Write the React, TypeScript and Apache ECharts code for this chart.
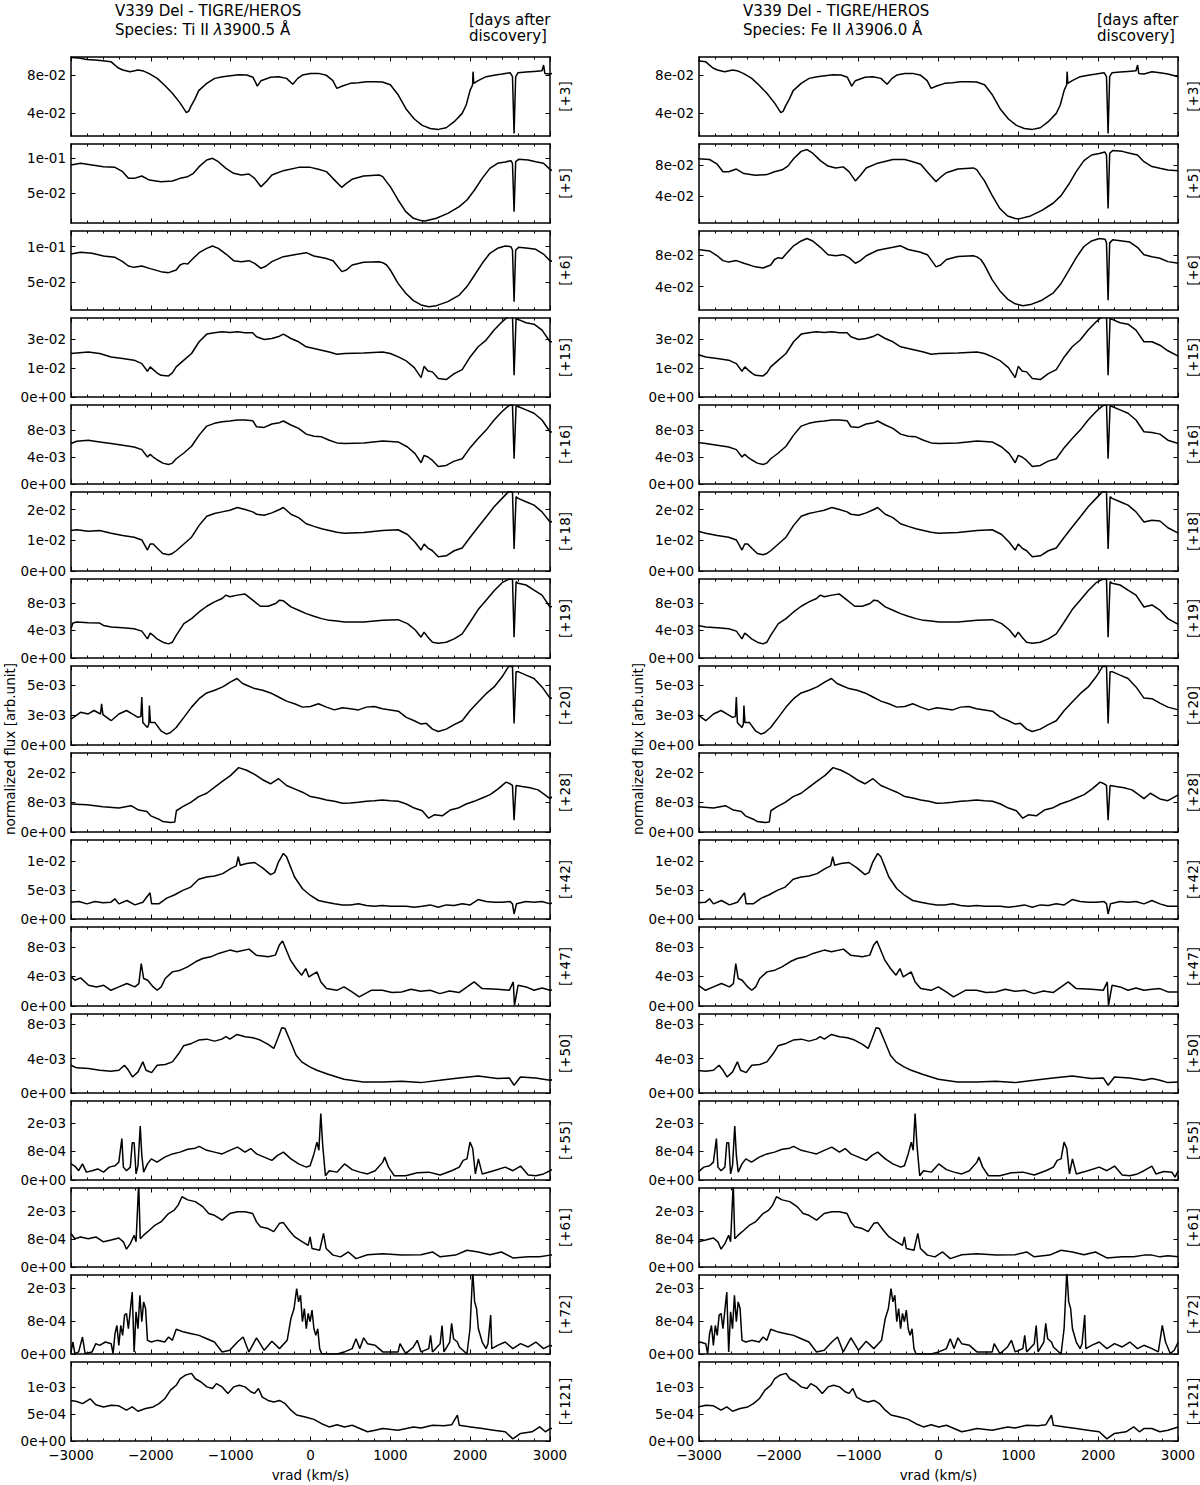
import React, { useEffect, useRef } from 'react';
import * as echarts from 'echarts';

// ---------------- constants of the physics ----------------
const C_KMS = 299792.458;
const REST_TI = 3900.5; // Ti II
const REST_FE = 3906.0; // Fe II

// ---------------- epochs (days after discovery) ----------------
const DAYS = ['+3', '+5', '+6', '+15', '+16', '+18', '+19', '+20', '+28', '+42', '+47', '+50', '+55', '+61', '+72', '+121'];

// ---------------- spectra: [vrad in the Ti II 3900.5 frame (km/s), normalized flux] ----------------
const d3: [number, number][] = [[-3000,0.0984],[-2900,0.0977],[-2800,0.0963],[-2700,0.0957],[-2600,0.0950],[-2500,0.0939],[-2450,0.0904],[-2400,0.0870],[-2350,0.0852],[-2260,0.0835],[-2160,0.0852],[-2090,0.0841],[-2020,0.0814],[-1920,0.0765],[-1830,0.0696],[-1730,0.0609],[-1630,0.0504],[-1555,0.0407],[-1525,0.0424],[-1500,0.0470],[-1450,0.0546],[-1400,0.0637],[-1300,0.0713],[-1200,0.0765],[-1100,0.0783],[-1000,0.0793],[-900,0.0803],[-800,0.0800],[-720,0.0776],[-666,0.0685],[-620,0.0741],[-500,0.0776],[-400,0.0783],[-300,0.0765],[-222,0.0703],[-160,0.0765],[-100,0.0800],[0,0.0817],[100,0.0817],[200,0.0797],[280,0.0741],[330,0.0661],[400,0.0685],[500,0.0713],[600,0.0720],[700,0.0730],[800,0.0730],[900,0.0727],[1000,0.0699],[1100,0.0591],[1200,0.0442],[1300,0.0341],[1400,0.0275],[1500,0.0243],[1600,0.0233],[1700,0.0250],[1800,0.0313],[1900,0.0400],[1950,0.0487],[2000,0.0643],[2030,0.0696],[2036,0.0835],[2045,0.0713],[2100,0.0741],[2200,0.0783],[2300,0.0797],[2400,0.0810],[2500,0.0824],[2530,0.0783],[2550,0.0191],[2570,0.0783],[2600,0.0824],[2700,0.0831],[2800,0.0838],[2900,0.0845],[2920,0.0904],[2935,0.0817],[3000,0.0810],[3100,0.0835],[3200,0.0824],[3300,0.0810],[3430,0.0783]];
const d5: [number, number][] = [[-3000,0.0905],[-2880,0.0929],[-2736,0.0905],[-2593,0.0881],[-2449,0.0871],[-2353,0.0810],[-2281,0.0714],[-2209,0.0714],[-2113,0.0748],[-2018,0.0690],[-1874,0.0667],[-1730,0.0676],[-1634,0.0714],[-1538,0.0738],[-1467,0.0786],[-1395,0.0881],[-1300,0.0976],[-1227,0.1000],[-1155,0.0952],[-1059,0.0857],[-963,0.0786],[-867,0.0762],[-772,0.0776],[-700,0.0714],[-620,0.0595],[-556,0.0667],[-484,0.0762],[-340,0.0824],[-149,0.0871],[0,0.0871],[100,0.0843],[200,0.0810],[280,0.0714],[390,0.0586],[450,0.0643],[520,0.0700],[665,0.0748],[860,0.0762],[905,0.0738],[950,0.0667],[1000,0.0595],[1097,0.0405],[1193,0.0238],[1290,0.0143],[1385,0.0110],[1433,0.0105],[1577,0.0143],[1720,0.0214],[1864,0.0310],[1960,0.0405],[2055,0.0548],[2150,0.0714],[2247,0.0857],[2343,0.0929],[2439,0.0948],[2511,0.0967],[2530,0.0929],[2550,0.0238],[2570,0.0952],[2607,0.0986],[2726,0.0976],[2822,0.0952],[2918,0.0929],[3000,0.0843],[3100,0.0780],[3200,0.0757],[3300,0.0735],[3430,0.0727]];
const d6: [number, number][] = [[-3000,0.0897],[-2880,0.0921],[-2736,0.0907],[-2593,0.0869],[-2449,0.0851],[-2353,0.0790],[-2281,0.0729],[-2209,0.0710],[-2113,0.0729],[-2018,0.0696],[-1874,0.0650],[-1778,0.0636],[-1682,0.0673],[-1634,0.0743],[-1586,0.0766],[-1538,0.0757],[-1490,0.0813],[-1395,0.0916],[-1300,0.0977],[-1227,0.1009],[-1155,0.0977],[-1059,0.0897],[-963,0.0804],[-867,0.0790],[-772,0.0804],[-700,0.0766],[-620,0.0696],[-556,0.0729],[-484,0.0790],[-340,0.0860],[-149,0.0897],[-53,0.0916],[43,0.0869],[187,0.0837],[283,0.0804],[393,0.0650],[450,0.0673],[522,0.0743],[666,0.0781],[858,0.0790],[905,0.0776],[953,0.0743],[1000,0.0673],[1097,0.0486],[1193,0.0346],[1289,0.0243],[1385,0.0183],[1481,0.0159],[1577,0.0173],[1720,0.0229],[1864,0.0322],[1960,0.0440],[2056,0.0603],[2151,0.0767],[2247,0.0907],[2343,0.0977],[2439,0.1009],[2511,0.1000],[2530,0.0953],[2550,0.0229],[2570,0.0953],[2607,0.0991],[2726,0.0977],[2822,0.0963],[2918,0.0897],[3000,0.0804],[3100,0.0779],[3200,0.0758],[3300,0.0716],[3430,0.0695]];
const d15: [number, number][] = [[-3000,0.0227],[-2928,0.0230],[-2784,0.0235],[-2641,0.0227],[-2497,0.0209],[-2353,0.0201],[-2209,0.0192],[-2113,0.0174],[-2042,0.0134],[-2008,0.0157],[-1970,0.0143],[-1922,0.0126],[-1874,0.0113],[-1778,0.0110],[-1730,0.0126],[-1682,0.0157],[-1586,0.0192],[-1490,0.0227],[-1395,0.0288],[-1299,0.0328],[-1203,0.0335],[-1107,0.0340],[-1011,0.0337],[-915,0.0340],[-820,0.0335],[-724,0.0335],[-676,0.0314],[-580,0.0300],[-484,0.0305],[-388,0.0317],[-340,0.0328],[-245,0.0305],[-149,0.0288],[-53,0.0262],[43,0.0253],[139,0.0244],[235,0.0235],[331,0.0223],[426,0.0227],[666,0.0230],[905,0.0235],[1000,0.0227],[1100,0.0209],[1200,0.0188],[1300,0.0153],[1385,0.0101],[1423,0.0160],[1471,0.0136],[1528,0.0131],[1600,0.0096],[1700,0.0091],[1800,0.0122],[1900,0.0143],[2000,0.0209],[2100,0.0262],[2200,0.0297],[2300,0.0349],[2400,0.0392],[2480,0.0422],[2530,0.0427],[2550,0.0113],[2575,0.0410],[2600,0.0405],[2700,0.0387],[2800,0.0380],[2900,0.0349],[3000,0.0288],[3100,0.0288],[3200,0.0270],[3300,0.0241],[3430,0.0213]];
const d16: [number, number][] = [[-3000,0.00604],[-2928,0.00639],[-2784,0.00654],[-2641,0.00629],[-2497,0.00604],[-2353,0.00579],[-2209,0.00553],[-2113,0.00513],[-2042,0.00403],[-2008,0.00443],[-1970,0.00403],[-1922,0.00362],[-1850,0.00312],[-1778,0.00292],[-1730,0.00312],[-1682,0.00377],[-1586,0.00463],[-1490,0.00564],[-1395,0.00730],[-1299,0.00865],[-1203,0.00906],[-1107,0.00931],[-1011,0.00941],[-915,0.00956],[-820,0.00956],[-724,0.00946],[-676,0.00855],[-580,0.00845],[-484,0.00896],[-388,0.00916],[-340,0.00941],[-245,0.00881],[-149,0.00830],[-53,0.00745],[43,0.00714],[139,0.00704],[235,0.00654],[331,0.00614],[426,0.00604],[666,0.00614],[905,0.00644],[1097,0.00629],[1215,0.00553],[1310,0.00453],[1385,0.00317],[1423,0.00428],[1471,0.00403],[1528,0.00352],[1600,0.00262],[1700,0.00277],[1800,0.00342],[1900,0.00377],[2000,0.00543],[2100,0.00679],[2200,0.00805],[2300,0.00956],[2400,0.01082],[2480,0.01167],[2530,0.01182],[2550,0.00377],[2575,0.01167],[2600,0.01157],[2700,0.01107],[2800,0.01057],[2900,0.00956],[3000,0.00780],[3100,0.00770],[3200,0.00745],[3300,0.00654],[3430,0.00604]];
const d18: [number, number][] = [[-3000,0.01319],[-2928,0.01341],[-2784,0.01297],[-2641,0.01319],[-2497,0.01231],[-2353,0.01154],[-2209,0.01099],[-2113,0.01011],[-2042,0.00681],[-2008,0.00879],[-1970,0.00879],[-1922,0.00747],[-1850,0.00571],[-1778,0.00527],[-1730,0.00571],[-1682,0.00659],[-1586,0.00879],[-1490,0.01099],[-1395,0.01484],[-1299,0.01780],[-1203,0.01868],[-1107,0.01923],[-1011,0.01978],[-915,0.02066],[-820,0.02000],[-724,0.01923],[-676,0.01846],[-580,0.01813],[-484,0.01890],[-388,0.02000],[-340,0.02066],[-245,0.01846],[-149,0.01736],[-53,0.01538],[43,0.01451],[139,0.01374],[235,0.01319],[331,0.01264],[426,0.01231],[666,0.01253],[905,0.01319],[1097,0.01341],[1215,0.01187],[1310,0.00934],[1385,0.00681],[1423,0.00879],[1471,0.00747],[1528,0.00659],[1600,0.00462],[1700,0.00495],[1800,0.00659],[1900,0.00747],[2000,0.01099],[2100,0.01429],[2200,0.01758],[2300,0.02088],[2400,0.02363],[2480,0.02582],[2530,0.02582],[2550,0.00714],[2575,0.02418],[2600,0.02363],[2700,0.02253],[2800,0.02143],[2900,0.01923],[3000,0.01593],[3100,0.01648],[3200,0.01626],[3300,0.01407],[3430,0.01231]];
const d19: [number, number][] = [[-3000,0.00424],[-2976,0.00507],[-2928,0.00522],[-2784,0.00512],[-2641,0.00507],[-2593,0.00473],[-2497,0.00449],[-2353,0.00439],[-2209,0.00424],[-2113,0.00390],[-2042,0.00278],[-2008,0.00361],[-1970,0.00327],[-1922,0.00278],[-1850,0.00229],[-1778,0.00205],[-1730,0.00229],[-1682,0.00327],[-1586,0.00498],[-1490,0.00571],[-1395,0.00668],[-1299,0.00751],[-1203,0.00815],[-1107,0.00863],[-1059,0.00912],[-1011,0.00888],[-915,0.00912],[-820,0.00927],[-724,0.00839],[-628,0.00751],[-532,0.00751],[-436,0.00790],[-388,0.00839],[-340,0.00829],[-245,0.00741],[-149,0.00693],[-53,0.00644],[43,0.00605],[139,0.00571],[235,0.00546],[331,0.00537],[426,0.00522],[666,0.00522],[905,0.00546],[1097,0.00556],[1215,0.00498],[1310,0.00410],[1385,0.00302],[1423,0.00376],[1471,0.00302],[1528,0.00229],[1600,0.00215],[1700,0.00229],[1800,0.00278],[1900,0.00351],[2000,0.00522],[2100,0.00702],[2200,0.00839],[2300,0.00976],[2400,0.01093],[2480,0.01141],[2530,0.01141],[2550,0.00302],[2575,0.01107],[2600,0.01083],[2700,0.01059],[2800,0.00985],[2900,0.00912],[3000,0.00740],[3100,0.00770],[3200,0.00693],[3300,0.00571],[3430,0.00488]];
const d20: [number, number][] = [[-3000,0.00216],[-2880,0.00272],[-2784,0.00258],[-2712,0.00287],[-2630,0.00258],[-2617,0.00343],[-2600,0.00253],[-2497,0.00202],[-2400,0.00258],[-2305,0.00287],[-2233,0.00258],[-2161,0.00230],[-2125,0.00236],[-2113,0.00399],[-2100,0.00188],[-2075,0.00169],[-2042,0.00146],[-2025,0.00174],[-2018,0.00329],[-2005,0.00188],[-1950,0.00188],[-1874,0.00118],[-1802,0.00090],[-1754,0.00104],[-1682,0.00146],[-1586,0.00230],[-1490,0.00315],[-1395,0.00385],[-1300,0.00433],[-1200,0.00455],[-1100,0.00483],[-1000,0.00525],[-920,0.00553],[-850,0.00511],[-800,0.00497],[-700,0.00469],[-600,0.00455],[-500,0.00433],[-400,0.00399],[-300,0.00365],[-200,0.00343],[-100,0.00315],[0,0.00320],[100,0.00343],[200,0.00315],[300,0.00292],[400,0.00309],[500,0.00301],[600,0.00292],[700,0.00315],[800,0.00320],[900,0.00301],[1000,0.00292],[1100,0.00281],[1200,0.00230],[1300,0.00202],[1385,0.00174],[1450,0.00180],[1528,0.00132],[1600,0.00112],[1700,0.00132],[1800,0.00169],[1900,0.00202],[2000,0.00287],[2100,0.00357],[2200,0.00427],[2300,0.00483],[2400,0.00567],[2480,0.00652],[2530,0.00652],[2550,0.00180],[2575,0.00610],[2600,0.00610],[2700,0.00581],[2800,0.00553],[2900,0.00483],[3000,0.00390],[3100,0.00385],[3200,0.00348],[3300,0.00315],[3430,0.00292]];
const d28: [number, number][] = [[-3000,0.00755],[-2800,0.00736],[-2600,0.00682],[-2400,0.00645],[-2250,0.00709],[-2150,0.00591],[-2050,0.00555],[-2000,0.00436],[-1900,0.00345],[-1850,0.00282],[-1750,0.00255],[-1700,0.00270],[-1680,0.00573],[-1600,0.00682],[-1500,0.00800],[-1400,0.00955],[-1300,0.01045],[-1200,0.01209],[-1100,0.01373],[-1000,0.01527],[-900,0.01736],[-800,0.01664],[-700,0.01555],[-600,0.01409],[-500,0.01300],[-400,0.01436],[-300,0.01255],[-200,0.01164],[-100,0.01073],[0,0.00955],[100,0.00918],[200,0.00864],[300,0.00827],[400,0.00773],[500,0.00782],[600,0.00800],[700,0.00827],[800,0.00845],[900,0.00864],[1000,0.00845],[1100,0.00827],[1200,0.00755],[1300,0.00645],[1400,0.00573],[1480,0.00373],[1550,0.00464],[1650,0.00436],[1750,0.00591],[1850,0.00645],[1950,0.00755],[2050,0.00827],[2150,0.00918],[2250,0.01009],[2350,0.01164],[2450,0.01345],[2500,0.01300],[2530,0.01255],[2550,0.00318],[2575,0.01255],[2650,0.01227],[2750,0.01191],[2850,0.01136],[2950,0.00982],[3000,0.00900],[3080,0.01045],[3200,0.00891],[3300,0.00845],[3430,0.01000]];
const d42: [number, number][] = [[-3000,0.00291],[-2900,0.00302],[-2800,0.00262],[-2700,0.00302],[-2600,0.00279],[-2500,0.00291],[-2450,0.00349],[-2400,0.00262],[-2300,0.00320],[-2200,0.00244],[-2100,0.00291],[-2010,0.00453],[-1990,0.00262],[-1900,0.00262],[-1800,0.00360],[-1700,0.00419],[-1600,0.00494],[-1500,0.00552],[-1400,0.00686],[-1300,0.00727],[-1200,0.00744],[-1100,0.00785],[-1000,0.00872],[-930,0.00919],[-905,0.01076],[-880,0.00930],[-800,0.00959],[-700,0.00977],[-600,0.00884],[-500,0.00767],[-450,0.00802],[-400,0.00988],[-340,0.01134],[-300,0.01076],[-250,0.00901],[-200,0.00727],[-100,0.00523],[0,0.00407],[100,0.00320],[200,0.00291],[300,0.00262],[400,0.00244],[500,0.00244],[600,0.00262],[700,0.00233],[800,0.00221],[900,0.00233],[1000,0.00221],[1100,0.00221],[1200,0.00221],[1300,0.00203],[1400,0.00221],[1500,0.00244],[1600,0.00203],[1700,0.00244],[1800,0.00233],[1900,0.00262],[2000,0.00244],[2100,0.00337],[2200,0.00302],[2300,0.00291],[2400,0.00291],[2500,0.00302],[2530,0.00262],[2550,0.00087],[2580,0.00262],[2700,0.00302],[2800,0.00291],[2900,0.00302],[3000,0.00262],[3100,0.00320],[3200,0.00262],[3300,0.00221],[3430,0.00221]];
const d47: [number, number][] = [[-3000,0.00393],[-2950,0.00348],[-2880,0.00380],[-2780,0.00280],[-2680,0.00258],[-2590,0.00280],[-2500,0.00212],[-2400,0.00258],[-2300,0.00303],[-2200,0.00258],[-2150,0.00303],[-2120,0.00574],[-2090,0.00371],[-2040,0.00348],[-1970,0.00258],[-1920,0.00212],[-1870,0.00258],[-1820,0.00371],[-1730,0.00461],[-1630,0.00484],[-1540,0.00529],[-1440,0.00597],[-1350,0.00642],[-1250,0.00664],[-1150,0.00710],[-1010,0.00755],[-920,0.00732],[-770,0.00768],[-680,0.00687],[-530,0.00664],[-440,0.00687],[-390,0.00823],[-350,0.00877],[-320,0.00800],[-250,0.00619],[-180,0.00506],[-110,0.00416],[-60,0.00506],[-20,0.00393],[80,0.00461],[130,0.00325],[200,0.00235],[330,0.00212],[420,0.00258],[520,0.00190],[610,0.00122],[760,0.00212],[900,0.00212],[1020,0.00181],[1140,0.00190],[1260,0.00226],[1380,0.00199],[1500,0.00212],[1620,0.00167],[1740,0.00203],[1860,0.00181],[2050,0.00325],[2150,0.00235],[2340,0.00226],[2490,0.00212],[2540,0.00325],[2555,0.00009],[2600,0.00280],[2700,0.00258],[2800,0.00212],[2900,0.00244],[3000,0.00212],[3100,0.00226],[3200,0.00235],[3300,0.00190],[3430,0.00190]];
const d50: [number, number][] = [[-3000,0.00324],[-2930,0.00293],[-2780,0.00285],[-2640,0.00265],[-2500,0.00254],[-2400,0.00265],[-2330,0.00324],[-2280,0.00265],[-2230,0.00187],[-2160,0.00246],[-2100,0.00363],[-2060,0.00265],[-1990,0.00238],[-1920,0.00324],[-1820,0.00332],[-1730,0.00363],[-1650,0.00460],[-1590,0.00550],[-1490,0.00578],[-1400,0.00617],[-1300,0.00628],[-1200,0.00605],[-1110,0.00628],[-1060,0.00656],[-1010,0.00628],[-920,0.00683],[-820,0.00656],[-720,0.00644],[-630,0.00617],[-530,0.00566],[-460,0.00519],[-410,0.00636],[-360,0.00761],[-320,0.00753],[-250,0.00597],[-180,0.00441],[-110,0.00363],[-10,0.00304],[80,0.00265],[230,0.00215],[420,0.00160],[660,0.00129],[900,0.00129],[1140,0.00137],[1380,0.00121],[1620,0.00148],[1860,0.00176],[2100,0.00199],[2340,0.00168],[2490,0.00176],[2550,0.00090],[2630,0.00187],[2820,0.00176],[3000,0.00148],[3100,0.00168],[3200,0.00148],[3300,0.00121],[3430,0.00129]];
const d55: [number, number][] = [[-3000,0.00045],[-2952,0.00039],[-2904,0.00026],[-2856,0.00045],[-2808,0.00022],[-2736,0.00026],[-2665,0.00031],[-2593,0.00022],[-2521,0.00036],[-2449,0.00040],[-2401,0.00050],[-2363,0.00116],[-2344,0.00036],[-2305,0.00026],[-2257,0.00036],[-2233,0.00104],[-2209,0.00104],[-2185,0.00017],[-2161,0.00040],[-2133,0.00151],[-2113,0.00069],[-2090,0.00022],[-2042,0.00045],[-1994,0.00059],[-1922,0.00050],[-1826,0.00064],[-1730,0.00073],[-1634,0.00078],[-1538,0.00086],[-1443,0.00089],[-1395,0.00094],[-1299,0.00083],[-1203,0.00078],[-1107,0.00073],[-1011,0.00083],[-915,0.00092],[-820,0.00078],[-748,0.00088],[-676,0.00073],[-580,0.00064],[-484,0.00055],[-412,0.00069],[-340,0.00078],[-245,0.00059],[-149,0.00045],[-53,0.00036],[-5,0.00040],[43,0.00073],[81,0.00106],[105,0.00083],[129,0.00186],[153,0.00097],[187,0.00012],[235,0.00026],[331,0.00022],[426,0.00045],[522,0.00029],[618,0.00022],[714,0.00017],[810,0.00026],[905,0.00050],[929,0.00064],[977,0.00036],[1049,0.00012],[1193,0.00012],[1337,0.00020],[1481,0.00022],[1624,0.00014],[1768,0.00026],[1864,0.00036],[1912,0.00055],[1960,0.00059],[1998,0.00106],[2032,0.00088],[2065,0.00017],[2103,0.00059],[2151,0.00017],[2295,0.00026],[2439,0.00036],[2535,0.00026],[2631,0.00039],[2727,0.00014],[2823,0.00012],[2919,0.00017],[3000,0.00026],[3100,0.00039],[3150,0.00017],[3250,0.00024],[3350,0.00022],[3390,0.00008],[3430,0.00026]];
const d61: [number, number][] = [[-3000,0.00096],[-2952,0.00081],[-2880,0.00086],[-2784,0.00081],[-2689,0.00086],[-2593,0.00072],[-2497,0.00077],[-2401,0.00083],[-2344,0.00072],[-2305,0.00051],[-2257,0.00067],[-2209,0.00091],[-2185,0.00072],[-2152,0.00240],[-2133,0.00081],[-2090,0.00091],[-2018,0.00105],[-1946,0.00120],[-1874,0.00129],[-1778,0.00153],[-1706,0.00163],[-1658,0.00177],[-1610,0.00201],[-1538,0.00192],[-1443,0.00187],[-1347,0.00172],[-1275,0.00153],[-1203,0.00148],[-1107,0.00134],[-1011,0.00153],[-915,0.00158],[-820,0.00158],[-724,0.00153],[-676,0.00129],[-628,0.00115],[-532,0.00110],[-460,0.00101],[-388,0.00125],[-340,0.00127],[-269,0.00105],[-197,0.00086],[-101,0.00072],[-29,0.00062],[-5,0.00086],[19,0.00053],[115,0.00048],[163,0.00096],[196,0.00053],[283,0.00034],[378,0.00029],[474,0.00043],[570,0.00024],[714,0.00035],[905,0.00038],[1145,0.00034],[1385,0.00035],[1528,0.00043],[1624,0.00029],[1816,0.00034],[1960,0.00048],[2103,0.00043],[2247,0.00035],[2391,0.00043],[2535,0.00026],[2727,0.00029],[2871,0.00029],[3000,0.00034],[3100,0.00034],[3200,0.00029],[3300,0.00032],[3430,0.00029]];
const d72: [number, number][] = [[-3000,0.00005],[-2976,0.00029],[-2952,0.00001],[-2904,0.00005],[-2856,0.00041],[-2823,0.00001],[-2736,0.00005],[-2689,0.00025],[-2641,0.00021],[-2569,0.00029],[-2497,0.00025],[-2473,0.00001],[-2449,0.00049],[-2425,0.00069],[-2401,0.00021],[-2377,0.00069],[-2353,0.00045],[-2329,0.00094],[-2305,0.00098],[-2281,0.00061],[-2257,0.00106],[-2233,0.00150],[-2209,0.00005],[-2185,0.00102],[-2161,0.00061],[-2137,0.00142],[-2113,0.00078],[-2090,0.00126],[-2066,0.00110],[-2042,0.00033],[-1994,0.00029],[-1922,0.00033],[-1826,0.00029],[-1778,0.00041],[-1730,0.00033],[-1682,0.00060],[-1586,0.00053],[-1490,0.00049],[-1395,0.00045],[-1299,0.00037],[-1203,0.00029],[-1107,0.00005],[-1011,0.00009],[-915,0.00029],[-844,0.00041],[-772,0.00005],[-676,0.00039],[-580,0.00009],[-484,0.00031],[-388,0.00013],[-292,0.00033],[-245,0.00086],[-206,0.00110],[-173,0.00158],[-149,0.00126],[-125,0.00142],[-101,0.00078],[-77,0.00110],[-53,0.00061],[-29,0.00098],[-5,0.00078],[19,0.00106],[43,0.00061],[67,0.00045],[91,0.00061],[115,0.00013],[139,0.00001],[235,0],[331,0],[426,0.00005],[522,0.00013],[570,0.00037],[618,0.00013],[666,0.00039],[714,0.00025],[810,0.00021],[905,0.00005],[1097,0.00005],[1121,0.00025],[1193,0.00001],[1289,0.00017],[1337,0.00033],[1385,0.00005],[1481,0.00013],[1504,0.00045],[1528,0.00005],[1624,0.00025],[1648,0.00069],[1672,0.00005],[1744,0.00029],[1768,0.00074],[1792,0.00037],[1840,0.00029],[1864,0.00017],[1960,0],[1998,0.00061],[2032,0.00200],[2056,0.00126],[2080,0.00110],[2103,0.00061],[2151,0.00029],[2199,0.00013],[2223,0.00025],[2257,0.00094],[2271,0.00013],[2343,0.00021],[2439,0.00029],[2535,0.00013],[2631,0.00025],[2727,0.00017],[2823,0.00029],[2919,0.00013],[3000,0.00021],[3100,0.00013],[3180,0.00005],[3230,0.00069],[3270,0.00029],[3330,0.00001],[3380,0.00009],[3430,0.00029]];
const d121: [number, number][] = [[-3000,0.00075],[-2928,0.00073],[-2856,0.00069],[-2760,0.00078],[-2689,0.00067],[-2593,0.00063],[-2497,0.00066],[-2401,0.00065],[-2305,0.00057],[-2233,0.00063],[-2161,0.00055],[-2066,0.00060],[-1970,0.00063],[-1898,0.00069],[-1826,0.00078],[-1754,0.00094],[-1682,0.00103],[-1634,0.00115],[-1562,0.00122],[-1490,0.00125],[-1443,0.00115],[-1371,0.00109],[-1299,0.00100],[-1227,0.00097],[-1179,0.00106],[-1107,0.00100],[-1035,0.00088],[-963,0.00100],[-892,0.00103],[-820,0.00100],[-748,0.00091],[-700,0.00088],[-652,0.00097],[-604,0.00081],[-532,0.00075],[-460,0.00072],[-388,0.00075],[-317,0.00069],[-245,0.00057],[-173,0.00048],[-53,0.00044],[43,0.00040],[139,0.00032],[235,0.00026],[331,0.00030],[426,0.00026],[522,0.00029],[618,0.00023],[714,0.00017],[810,0.00020],[905,0.00023],[1097,0.00020],[1289,0.00026],[1385,0.00024],[1528,0.00029],[1672,0.00028],[1768,0.00030],[1840,0.00048],[1864,0.00029],[2008,0.00026],[2151,0.00023],[2295,0.00020],[2439,0.00017],[2535,0.00004],[2631,0.00014],[2775,0.00017],[2871,0.00026],[2943,0.00017],[3000,0.00023],[3100,0.00023],[3200,0.00017],[3300,0.00020],[3430,0.00026]];

const SPECTRA = [d3, d5, d6, d15, d16, d18, d19, d20, d28, d42, d47, d50, d55, d61, d72, d121];

// ---------------- y-axis limits and ticks per panel ----------------
const Y_LIM_TI: [number, number][] = [[0.0164,0.0988],[0.0076,0.1205],[0.0112,0.122],[0,0.0412],[0,0.0118],[0,0.0257],[0,0.01146],[0,0.00657],[0,0.0213],[0,0.01366],[0,0.01067],[0,0.00921],[0,0.00221],[0,0.00226],[0,0.00191],[0,0.00146]];
const Y_LIM_FE: [number, number][] = [[0.0164,0.0988],[0.0052,0.1071],[0.0105,0.1103],[0,0.0412],[0,0.0118],[0,0.0257],[0,0.01146],[0,0.00657],[0,0.0213],[0,0.01366],[0,0.01067],[0,0.00921],[0,0.00221],[0,0.00226],[0,0.00191],[0,0.00146]];
const Y_TICKS_TI: number[][] = [[0.04,0.08],[0.05,0.1],[0.05,0.1],[0,0.015,0.03],[0,0.004,0.008],[0,0.01,0.02],[0,0.004,0.008],[0,0.0025,0.005],[0,0.008,0.016],[0,0.005,0.01],[0,0.004,0.008],[0,0.004,0.008],[0,0.0008,0.0016],[0,0.0008,0.0016],[0,0.0008,0.0016],[0,0.0005,0.001]];
const Y_TICKS_FE: number[][] = [[0.04,0.08],[0.04,0.08],[0.04,0.08],[0,0.015,0.03],[0,0.004,0.008],[0,0.01,0.02],[0,0.004,0.008],[0,0.0025,0.005],[0,0.008,0.016],[0,0.005,0.01],[0,0.004,0.008],[0,0.004,0.008],[0,0.0008,0.0016],[0,0.0008,0.0016],[0,0.0008,0.0016],[0,0.0005,0.001]];
const Y_LABELS_TI: string[][] = [['4e-02','8e-02'],['5e-02','1e-01'],['5e-02','1e-01'],['0e+00','1e-02','3e-02'],['0e+00','4e-03','8e-03'],['0e+00','1e-02','2e-02'],['0e+00','4e-03','8e-03'],['0e+00','3e-03','5e-03'],['0e+00','8e-03','2e-02'],['0e+00','5e-03','1e-02'],['0e+00','4e-03','8e-03'],['0e+00','4e-03','8e-03'],['0e+00','8e-04','2e-03'],['0e+00','8e-04','2e-03'],['0e+00','8e-04','2e-03'],['0e+00','5e-04','1e-03']];
const Y_LABELS_FE: string[][] = [['4e-02','8e-02'],['4e-02','8e-02'],['4e-02','8e-02'],['0e+00','1e-02','3e-02'],['0e+00','4e-03','8e-03'],['0e+00','1e-02','2e-02'],['0e+00','4e-03','8e-03'],['0e+00','3e-03','5e-03'],['0e+00','8e-03','2e-02'],['0e+00','5e-03','1e-02'],['0e+00','4e-03','8e-03'],['0e+00','4e-03','8e-03'],['0e+00','8e-04','2e-03'],['0e+00','8e-04','2e-03'],['0e+00','8e-04','2e-03'],['0e+00','5e-04','1e-03']];

const X_MIN = -3000;
const X_MAX = 3000;
const X_STEP = 1000;

// ---------------- layout ----------------
const FONT = 'DejaVu Sans';
const PANEL_TOP0 = 57;
const PANEL_PITCH = 87;
const PANEL_H = 79;
const PANEL_W = 479;
const COL_LEFT = [71, 699];
const COL_DX = 628;

const toTi = (v: number) => v;
const toFe = (v: number) => ((REST_TI * (1 + v / C_KMS)) / REST_FE - 1) * C_KMS;

const COLUMNS = [
  { name: 'Ti II', restText: '3900.5', conv: toTi, lims: Y_LIM_TI, ticks: Y_TICKS_TI, labels: Y_LABELS_TI },
  { name: 'Fe II', restText: '3906.0', conv: toFe, lims: Y_LIM_FE, ticks: Y_TICKS_FE, labels: Y_LABELS_FE },
];

function buildOption() {
  const grid: any[] = [];
  const xAxis: any[] = [];
  const yAxis: any[] = [];
  const series: any[] = [];
  const graphic: any[] = [];

  const axisLine = { show: true, onZero: false, lineStyle: { color: '#000', width: 1.5 } };
  const tick = { show: true, inside: true, length: 4.5, lineStyle: { color: '#000', width: 1 } };
  const minor = { show: true, splitNumber: 5, length: 2.5, lineStyle: { color: '#000', width: 1 } };

  COLUMNS.forEach((col, c) => {
    SPECTRA.forEach((spec, i) => {
      const p = grid.length;
      const top = PANEL_TOP0 + PANEL_PITCH * i;
      const isLast = i === SPECTRA.length - 1;
      grid.push({ left: COL_LEFT[c], top, width: PANEL_W, height: PANEL_H });

      const xBase = {
        type: 'value', gridIndex: p, min: X_MIN, max: X_MAX, interval: X_STEP,
        axisLine, axisTick: tick, minorTick: minor,
        splitLine: { show: false }, minorSplitLine: { show: false },
      };
      xAxis.push({
        ...xBase, position: 'bottom',
        axisLabel: {
          show: isLast, color: '#000', fontFamily: FONT, fontSize: 13.5, margin: 7,
          showMinLabel: true, showMaxLabel: true,
          formatter: (v: number) => (v < 0 ? '\u2212' + Math.abs(v) : String(v)),
        },
      });
      xAxis.push({ ...xBase, position: 'top', axisLabel: { show: false } });

      const [ymin, ymax] = col.lims[i];
      const tv = col.ticks[i];
      const tl = col.labels[i];
      const yTick = { ...tick, customValues: tv };
      yAxis.push({
        type: 'value', gridIndex: p, position: 'left', min: ymin, max: ymax,
        axisLine, axisTick: yTick, splitLine: { show: false },
        axisLabel: {
          show: true, customValues: tv, color: '#000', fontFamily: FONT, fontSize: 13.5, margin: 5,
          formatter: (v: number) => {
            const k = tv.findIndex((t) => Math.abs(t - v) < 1e-12);
            return k >= 0 ? tl[k] : '';
          },
        },
      });
      yAxis.push({
        type: 'value', gridIndex: p, position: 'right', min: ymin, max: ymax,
        axisLine, axisTick: yTick, splitLine: { show: false },
        axisLabel: { show: false, customValues: tv },
      });

      series.push({
        type: 'line', xAxisIndex: 2 * p, yAxisIndex: 2 * p,
        data: spec.map(([v, f]) => [col.conv(v), f]),
        showSymbol: false, symbol: 'none', clip: true, silent: true,
        lineStyle: { color: '#000', width: 1.5 },
        animation: false,
      });

      graphic.push({
        type: 'text', x: 565 + c * COL_DX, y: top + PANEL_H / 2, rotation: Math.PI / 2,
        style: {
          text: '[' + DAYS[i] + ']', fontFamily: FONT, fontSize: 13.5, fill: '#000',
          align: 'center', verticalAlign: 'middle', textAlign: 'center', textVerticalAlign: 'middle',
        },
      });
    });

    const dx = c * COL_DX;
    graphic.push({
      type: 'text', x: 115 + dx, y: 11,
      style: { text: 'V339 Del - TIGRE/HEROS', fontFamily: FONT, fontSize: 15, fill: '#000', align: 'left', verticalAlign: 'middle', textAlign: 'left', textVerticalAlign: 'middle' },
    });
    graphic.push({
      type: 'text', x: 115 + dx, y: 30,
      style: {
        text: '{a|Species: ' + col.name + ' }{b|\u03bb}{a|' + col.restText + ' \u00c5}',
        rich: {
          a: { fontFamily: FONT, fontSize: 15, fill: '#000', color: '#000' },
          b: { fontFamily: FONT, fontSize: 15, fontStyle: 'italic', fill: '#000', color: '#000' },
        },
        align: 'left', verticalAlign: 'middle', textAlign: 'left', textVerticalAlign: 'middle',
      },
    });
    graphic.push({
      type: 'text', x: 469 + dx, y: 20,
      style: { text: '[days after', fontFamily: FONT, fontSize: 15, fill: '#000', align: 'left', verticalAlign: 'middle', textAlign: 'left', textVerticalAlign: 'middle' },
    });
    graphic.push({
      type: 'text', x: 469 + dx, y: 36,
      style: { text: 'discovery]', fontFamily: FONT, fontSize: 15, fill: '#000', align: 'left', verticalAlign: 'middle', textAlign: 'left', textVerticalAlign: 'middle' },
    });
    graphic.push({
      type: 'text', x: 10 + dx, y: PANEL_TOP0 + (PANEL_PITCH * 15 + PANEL_H) / 2, rotation: Math.PI / 2,
      style: { text: 'normalized flux [arb.unit]', fontFamily: FONT, fontSize: 13.5, fill: '#000', align: 'center', verticalAlign: 'middle', textAlign: 'center', textVerticalAlign: 'middle' },
    });
    graphic.push({
      type: 'text', x: COL_LEFT[c] + PANEL_W / 2, y: 1475,
      style: { text: 'vrad (km/s)', fontFamily: FONT, fontSize: 13.5, fill: '#000', align: 'center', verticalAlign: 'middle', textAlign: 'center', textVerticalAlign: 'middle' },
    });
  });

  return {
    animation: false,
    backgroundColor: '#fff',
    textStyle: { fontFamily: FONT },
    grid, xAxis, yAxis, series, graphic,
  };
}

export default function App() {
  const ref = useRef<HTMLDivElement>(null);
  useEffect(() => {
    document.body.style.margin = '0';
    if (!ref.current) return;
    const chart = echarts.init(ref.current, null, { renderer: 'svg' });
    chart.setOption(buildOption() as any);
    return () => chart.dispose();
  }, []);
  return <div ref={ref} style={{ width: 1200, height: 1485 }} />;
}
